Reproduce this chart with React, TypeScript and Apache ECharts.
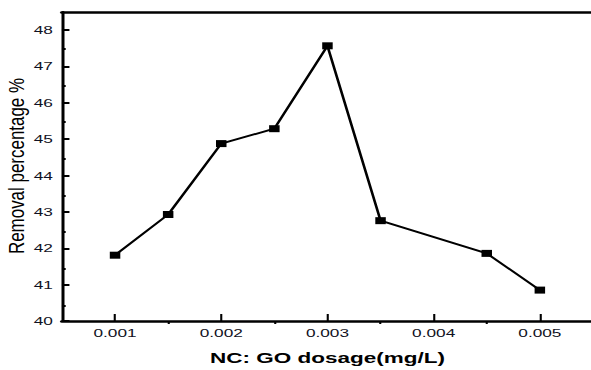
import React, { useEffect, useRef } from "react";
import * as echarts from "echarts";

const dosage = [0.001, 0.0015, 0.002, 0.0025, 0.003, 0.0035, 0.0045, 0.005];
const removal = [41.81, 42.93, 44.88, 45.29, 47.57, 42.76, 41.86, 40.85];
const xMajorTicks = [0.001, 0.002, 0.003, 0.004, 0.005];
const xMinorTicks = [0.0015, 0.0025, 0.0035, 0.0045];
const yMajorTicks = [40, 41, 42, 43, 44, 45, 46, 47, 48];
const yMinorTicks = [40.5, 41.5, 42.5, 43.5, 44.5, 45.5, 46.5, 47.5];
const xTitle = "NC: GO dosage(mg/L)";
const yTitle = "Removal percentage %";

const STRETCH = 1.5;
const W = 591 / STRETCH;
const H = 370;
const FONT = "Liberation Sans, Arial, sans-serif";

export default function App() {
  const ref = useRef<HTMLDivElement>(null);
  useEffect(() => {
    if (!ref.current) return;
    const chart = echarts.init(ref.current, null, { renderer: "svg", width: W + 4, height: H });
    const xMin = 0.0005;
    const xMax = 0.0055;
    const yMin = 40;
    const yMax = 48.5;
    const gridBox = { left: 41.3, right: 2.7, top: 12, bottom: 46, show: false };
    chart.setOption({
      animation: false,
      backgroundColor: "#fff",
      grid: [gridBox, { ...gridBox }],
      xAxis: [
        {
          type: "value",
          gridIndex: 0,
          min: xMin,
          max: xMax,
          interval: 0.001,
          position: "bottom",
          name: xTitle,
          nameLocation: "middle",
          nameGap: 29,
          nameTextStyle: { fontFamily: FONT, fontSize: 15, fontWeight: "bold", color: "#000" },
          axisLine: { show: true, onZero: false, lineStyle: { color: "#000", width: 2.6 } },
          axisTick: { show: true, inside: true, length: 7, lineStyle: { color: "#000", width: 1.4 }, customValues: xMajorTicks },
          axisLabel: {
            show: true,
            margin: 6,
            fontFamily: FONT,
            fontSize: 11.5,
            color: "#111122",
            customValues: xMajorTicks,
            formatter: (v: number) => v.toFixed(3),
          },
          splitLine: { show: false },
        },
        {
          type: "value",
          gridIndex: 1,
          min: xMin,
          max: xMax,
          interval: 0.001,
          position: "bottom",
          axisLine: { show: false, onZero: false },
          axisTick: { show: true, inside: true, length: 2, lineStyle: { color: "#000", width: 1.4 }, customValues: xMinorTicks },
          axisLabel: { show: false },
          splitLine: { show: false },
        },
        {
          type: "value",
          gridIndex: 1,
          min: xMin,
          max: xMax,
          interval: 0.001,
          position: "top",
          axisLine: { show: true, onZero: false, lineStyle: { color: "#000", width: 2.6 } },
          axisTick: { show: false },
          axisLabel: { show: false },
          splitLine: { show: false },
        },
      ],
      yAxis: [
        {
          type: "value",
          gridIndex: 0,
          min: yMin,
          max: yMax,
          interval: 1,
          position: "left",
          axisLine: { show: true, onZero: false, lineStyle: { color: "#000", width: 2 } },
          axisTick: { show: true, inside: true, length: 5, lineStyle: { color: "#000", width: 2 }, customValues: yMajorTicks },
          axisLabel: {
            show: true,
            margin: 6,
            fontFamily: FONT,
            fontSize: 11.5,
            color: "#111122",
            customValues: yMajorTicks,
          },
          splitLine: { show: false },
        },
        {
          type: "value",
          gridIndex: 1,
          min: yMin,
          max: yMax,
          interval: 1,
          position: "left",
          axisLine: { show: false, onZero: false },
          axisTick: { show: true, inside: true, length: 2.5, lineStyle: { color: "#000", width: 2 }, customValues: yMinorTicks },
          axisLabel: { show: false },
          splitLine: { show: false },
        },
      ],
      graphic: [
        {
          type: "text",
          x: 10.5,
          y: 166,
          rotation: Math.PI / 2,
          scaleX: 1.13,
          scaleY: 1.0,
          style: {
            text: yTitle,
            fontFamily: FONT,
            fontSize: 15,
            fill: "#000",
            align: "center",
            verticalAlign: "middle",
          },
        },
      ],
      series: [
        {
          type: "line",
          xAxisIndex: 0,
          yAxisIndex: 0,
          data: dosage.map((d, i) => [d, removal[i]]),
          symbol: "rect",
          symbolSize: 7,
          showSymbol: true,
          lineStyle: { color: "#000", width: 1.8 },
          itemStyle: { color: "#000" },
          z: 3,
        },
      ],
    });
    return () => chart.dispose();
  }, []);
  return (
    <div style={{ position: "absolute", left: 0, top: 0, width: 591, height: 370, overflow: "hidden", background: "#fff" }}>
      <div
        ref={ref}
        style={{ width: W + 4, height: H, transform: `scaleX(${STRETCH})`, transformOrigin: "0 0" }}
      />
    </div>
  );
}
